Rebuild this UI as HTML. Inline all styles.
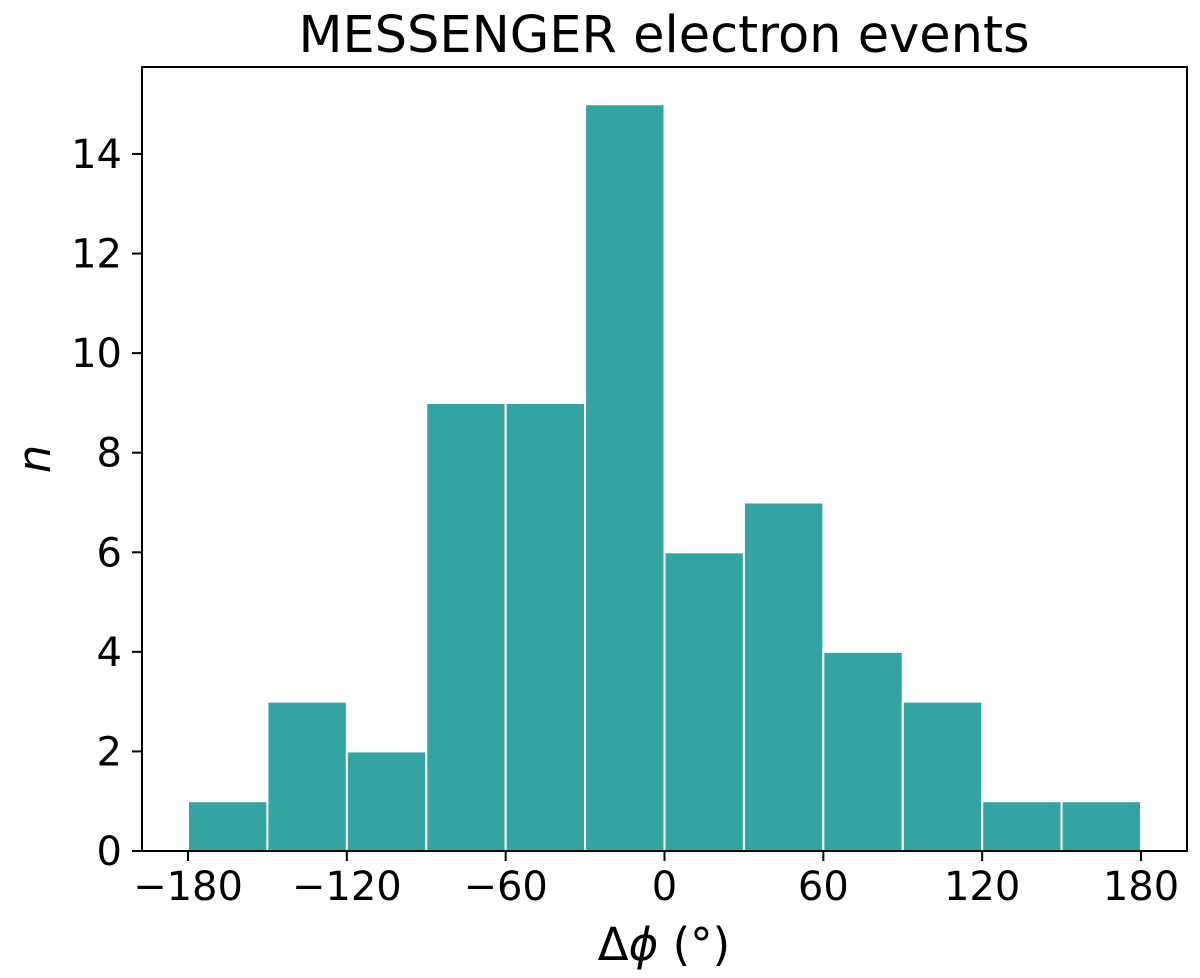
<!DOCTYPE html>
<html><head><meta charset="utf-8"><style>
body{margin:0;background:#fff;}
svg text{font-family:"DejaVu Sans","Liberation Sans",sans-serif;fill:#000;}
</style></head><body>
<svg id="chart" width="1200" height="973" xmlns="http://www.w3.org/2000/svg">
<text x="664" y="52" font-size="51" text-anchor="middle">MESSENGER electron events</text>
<g id="bars"></g>
<rect x="142" y="67" width="1045" height="784" fill="none" stroke="#000" stroke-width="2"/>
<g id="xticks"></g>
<g id="yticks"></g>
<text x="664" y="960" font-size="45" text-anchor="middle">Δ<tspan font-style="italic">ϕ</tspan> (°)</text>
<text transform="translate(50,459) rotate(-90)" font-size="45" font-style="italic" text-anchor="middle">n</text>
</svg>
<script>
const binEdges=[-180,-150,-120,-90,-60,-30,0,30,60,90,120,150,180];
const counts=[1,3,2,9,9,15,6,7,4,3,1,1];
const xTicks=[-180,-120,-60,0,60,120,180];
const yTicks=[0,2,4,6,8,10,12,14];
const NS="http://www.w3.org/2000/svg";
const x=v=>188+(v+180)*(1141-188)/360;
const y=v=>851-v*(851-154)/14;
const bars=document.getElementById('bars');
counts.forEach((c,i)=>{
  const r=document.createElementNS(NS,'rect');
  
  
  r.setAttribute('x',x(binEdges[i]));r.setAttribute('width',x(binEdges[i+1])-x(binEdges[i]));
  r.setAttribute('y',y(c));r.setAttribute('height',y(0)-y(c));
  r.setAttribute('fill','#33a3a3');r.setAttribute('stroke','#fff');r.setAttribute('stroke-width','2');
  bars.appendChild(r);
});
const xt=document.getElementById('xticks');
xTicks.forEach(t=>{
  const l=document.createElementNS(NS,'line');
  
  
  l.setAttribute('x1',x(t));l.setAttribute('x2',x(t));l.setAttribute('y1',851);l.setAttribute('y2',861);
  l.setAttribute('stroke','#000');l.setAttribute('stroke-width','2');xt.appendChild(l);
  const tx=document.createElementNS(NS,'text');
  
  
  tx.setAttribute('x',x(t));tx.setAttribute('y',900);tx.setAttribute('font-size','40');tx.setAttribute('text-anchor','middle');
  tx.textContent=t<0?'\u2212'+(-t):String(t);xt.appendChild(tx);
});
const yt=document.getElementById('yticks');
yTicks.forEach(t=>{
  const l=document.createElementNS(NS,'line');
  
  
  l.setAttribute('x1',132);l.setAttribute('x2',142);l.setAttribute('y1',y(t));l.setAttribute('y2',y(t));
  l.setAttribute('stroke','#000');l.setAttribute('stroke-width','2');yt.appendChild(l);
  const tx=document.createElementNS(NS,'text');
  
  
  tx.setAttribute('x',122);tx.setAttribute('y',y(t)+14);tx.setAttribute('font-size','40');tx.setAttribute('text-anchor','end');
  tx.textContent=String(t);yt.appendChild(tx);
});
</script>
</body></html>
